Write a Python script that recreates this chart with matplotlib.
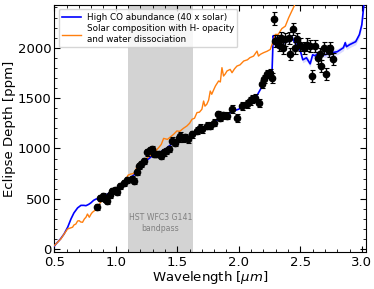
import numpy as np
import matplotlib
matplotlib.use("Agg")
import matplotlib.pyplot as plt
from matplotlib.ticker import MultipleLocator

# Observed data
obs_wl = [0.847, 0.874, 0.90, 0.915, 0.928, 0.95, 0.969, 0.99, 1.01, 1.036, 1.063, 1.09,
          1.13, 1.15, 1.17, 1.19, 1.205, 1.226, 1.254, 1.28, 1.294, 1.31, 1.33, 1.348,
          1.37, 1.39, 1.405, 1.43, 1.457, 1.484, 1.51, 1.524, 1.545, 1.565, 1.59, 1.62,
          1.66, 1.687, 1.70, 1.74, 1.768, 1.795, 1.835, 1.85, 1.875, 1.904, 1.945, 1.985,
          2.026, 2.067, 2.09, 2.107, 2.134, 2.161, 2.19, 2.207, 2.23, 2.25, 2.27,
          2.283, 2.297, 2.31, 2.324, 2.343, 2.359, 2.378, 2.405, 2.42, 2.437, 2.46, 2.473,
          2.50, 2.527, 2.554, 2.58, 2.595, 2.622, 2.64, 2.657, 2.67, 2.69, 2.709, 2.73,
          2.744, 2.766]
obs_depth = [417, 510, 525, 500, 481, 540, 580, 590, 570, 630, 655, 686,
             700, 680, 762, 830, 850, 877, 960, 980, 990, 944, 944, 944,
             927, 960, 976, 990, 1075, 1059, 1100, 1125, 1100, 1109, 1092, 1142,
             1174, 1208, 1191, 1224, 1224, 1257, 1340, 1307, 1330, 1323, 1389, 1307,
             1422, 1439, 1470, 1488, 1505, 1455, 1637, 1686, 1735, 1752, 1703,
             2290, 2065, 2070, 2032, 2099, 2000, 2082, 2099, 1934, 2188, 2000, 2082,
             2032, 2000, 2032, 2016, 1719, 2016, 1900, 1934, 1818, 2000, 1736, 1966,
             2000, 1884]
obs_err = [30] * 28 + [35] * 18 + [40] * 12 + [50] + [60] * 26

# High CO model
co_wl = [0.5, 0.514, 0.55, 0.58, 0.61, 0.636, 0.66, 0.69, 0.717, 0.74, 0.758, 0.78, 0.798,
         0.82, 0.84, 0.86, 0.9, 0.95, 1.0, 1.05, 1.1, 1.15, 1.2, 1.25, 1.3, 1.35, 1.4,
         1.45, 1.5, 1.55, 1.6, 1.65, 1.7, 1.75, 1.8, 1.85, 1.9, 1.95, 2.0, 2.05, 2.1,
         2.15, 2.2, 2.25, 2.27, 2.28, 2.29, 2.31, 2.33, 2.35, 2.37, 2.39, 2.41, 2.43,
         2.45, 2.47, 2.5, 2.52, 2.55, 2.58, 2.6, 2.62, 2.65, 2.7, 2.75, 2.8, 2.85,
         2.865, 2.875, 2.9, 2.95, 2.98, 3.0, 3.01, 3.02]
co_depth = [30, 52, 100, 151, 220, 300, 360, 410, 435, 435, 432, 445, 460,
            485, 498, 500, 520, 560, 600, 645, 690, 740, 810, 880, 930, 955, 990,
            1040, 1070, 1100, 1120, 1160, 1190, 1220, 1260, 1300, 1330, 1370, 1390, 1440, 1490,
            1530, 1640, 1750, 1760, 2120, 2060, 2100, 2040, 2120, 2050, 2090, 2060, 2110,
            2060, 2030, 1970, 1880, 1900, 1840, 1930, 1920, 1950, 1930, 1950, 1960, 2000,
            2050, 2010, 2030, 2060, 2130, 2230, 2350, 2480]

# Solar composition with H- opacity model
sol_wl = [0.5, 0.514, 0.554, 0.58, 0.608, 0.63, 0.649, 0.66, 0.676, 0.69, 0.703, 0.715,
          0.73, 0.745, 0.758, 0.77, 0.785, 0.8, 0.81, 0.825, 0.84, 0.866, 0.9, 0.95, 1.0,
          1.05, 1.08, 1.1, 1.12, 1.14, 1.16, 1.17, 1.2, 1.22, 1.25, 1.28, 1.3, 1.32, 1.35,
          1.37, 1.389, 1.42, 1.45, 1.47, 1.497, 1.52, 1.55, 1.579, 1.6, 1.62, 1.64, 1.66,
          1.68, 1.70, 1.714, 1.725, 1.74, 1.755, 1.768, 1.78, 1.795, 1.81, 1.836, 1.85,
          1.863, 1.876, 1.89, 1.904, 1.93, 1.945, 1.965, 1.985, 2.01, 2.04, 2.07, 2.09,
          2.12, 2.148, 2.16, 2.175, 2.2, 2.23, 2.256, 2.27, 2.297, 2.32, 2.35, 2.378,
          2.405, 2.43, 2.46, 2.5]
sol_depth = [35, 52, 102, 150, 200, 210, 218, 240, 250, 280, 283, 270,
             267, 300, 317, 349, 317, 350, 366, 380, 399, 449, 500, 550, 600,
             650, 690, 735, 745, 750, 770, 812, 850, 870, 900, 930, 960, 970, 1010,
             1040, 1100, 1090, 1120, 1140, 1174, 1170, 1200, 1224, 1250, 1290, 1300, 1356,
             1360, 1389, 1471, 1420, 1439, 1480, 1570, 1538, 1580, 1620, 1670, 1660,
             1802, 1719, 1740, 1769, 1785, 1752, 1790, 1818, 1830, 1868, 1880, 1901,
             1917, 1966, 1917, 1934, 1950, 1965, 1983, 2032, 2132, 2132, 2190, 2214,
             2297, 2362, 2440, 2520]

band_lo, band_hi = 1.10, 1.625

fig = plt.figure(figsize=(3.74, 2.89), dpi=100)
ax = fig.add_axes([0.145, 0.128, 0.834, 0.855])

ax.axvspan(band_lo, band_hi, color="#d3d3d3", zorder=0, lw=0)
ax.text((band_lo + band_hi) / 2, 260, "HST WFC3 G141\nbandpass", ha="center", va="center",
        fontsize=5.6, color="#808080", zorder=1)

co_wl_a = np.array(co_wl)
co_d_a = np.array(co_depth)
mask = co_wl_a >= 2.28
ax.fill_between(co_wl_a[mask], co_d_a[mask] - 30, co_d_a[mask] + 30, color="#9999ff",
                alpha=0.35, lw=0, zorder=2)
ax.plot(co_wl, co_depth, color="blue", lw=1.2, zorder=3, label="High CO abundance (40 x solar)")
ax.plot(sol_wl, sol_depth, color="#ff7f0e", lw=1.0, zorder=3,
        label="Solar composition with H- opacity\nand water dissociation")
ax.errorbar(obs_wl, obs_depth, yerr=obs_err, fmt="o", color="black", ms=4.5,
            elinewidth=1.0, capsize=1.8, capthick=0.8, zorder=4)

ax.set_xlim(0.5, 3.035)
ax.set_ylim(-28, 2425)
ax.xaxis.set_major_locator(MultipleLocator(0.5))
ax.xaxis.set_minor_locator(MultipleLocator(0.1))
ax.yaxis.set_major_locator(MultipleLocator(500))
ax.yaxis.set_minor_locator(MultipleLocator(100))
ax.tick_params(which="both", direction="in", top=True, right=True, labelsize=9.5)
ax.tick_params(axis="x", pad=3)
ax.tick_params(axis="y", pad=2)
ax.tick_params(which="major", length=4)
ax.tick_params(which="minor", length=2)
ax.set_xlabel(r"Wavelength [$\mu m$]", fontsize=9.5, labelpad=0)
ax.set_ylabel("Eclipse Depth [ppm]", fontsize=9.5, labelpad=1)

ax.legend(loc="upper left", prop={"size": 6.3}, handlelength=2.2, borderpad=0.4,
          labelspacing=0.3, handletextpad=0.6, bbox_to_anchor=(0.0, 1.0))

fig.savefig("out.png", dpi=100)
